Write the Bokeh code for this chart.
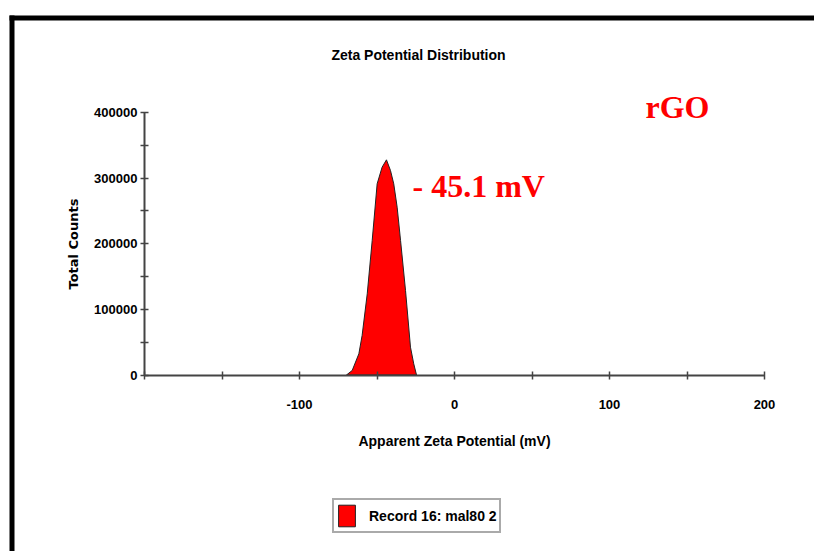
from bokeh.plotting import figure
from bokeh.models import Range1d, FixedTicker, Label, Legend, LegendItem, BoxAnnotation
from bokeh.embed import file_html
from bokeh.resources import INLINE

# ---- data ----
zeta_mv = [-69.7, -66.0, -61.7, -59.6, -56.3, -53.1, -49.9, -46.7, -43.9,
           -41.3, -39.2, -37.0, -34.8, -31.6, -28.4, -26.3, -24.5]
total_counts = [0, 6900, 32300, 60200, 123700, 205000, 291300, 316700, 327900,
                311600, 291300, 255700, 205000, 128800, 42400, 17000, 0]
x_ticks = [-200, -150, -100, -50, 0, 50, 100, 150, 200]
x_tick_labels = ["", "", "-100", "", "0", "", "100", "", "200"]
y_ticks = [0, 50000, 100000, 150000, 200000, 250000, 300000, 350000, 400000]
y_tick_labels = ["0", "", "100000", "", "200000", "", "300000", "", "400000"]
peak_label = "- 45.1 mV"
sample_label = "rGO"
record_label = "Record 16: mal80 2"

SANS = "Liberation Sans"
W, H = 814, 551
# pixel layout of the axes box inside the canvas
AX_L, AX_R, AX_T, AX_B = 144, 764, 112, 374.5
XMIN, XMAX, YMIN, YMAX = -200, 200, 0, 400000
kx = (XMAX - XMIN) / (AX_R - AX_L)
ky = (YMAX - YMIN) / (AX_B - AX_T)
x_range = Range1d(XMIN - AX_L * kx, XMAX + (W - AX_R) * kx)
y_range = Range1d(YMIN - (H - AX_B) * ky, YMAX + AX_T * ky)


def dx(px):  # canvas pixel -> data x (for placing annotations)
    return XMIN + (px - AX_L) * kx


def dy(py):  # canvas pixel -> data y
    return YMIN + (AX_B - py) * ky


p = figure(width=W, height=H, output_backend="svg", toolbar_location=None,
           x_range=x_range, y_range=y_range, min_border=0)
p.outline_line_color = None
p.grid.visible = False
p.background_fill_color = "white"
p.border_fill_color = "white"

peak = p.patch(zeta_mv, total_counts, fill_color="#ff0000", line_color="#222222",
               line_width=1)

for ax, ticks, labels, loc, bnds in ((p.xaxis[0], x_ticks, x_tick_labels, YMIN, (XMIN, XMAX)),
                                     (p.yaxis[0], y_ticks, y_tick_labels, XMIN, (YMIN, YMAX))):
    ax.fixed_location = loc
    ax.bounds = bnds
    ax.ticker = FixedTicker(ticks=ticks)
    ax.major_label_overrides = {t: l for t, l in zip(ticks, labels)}
    ax.minor_tick_line_color = None
    ax.axis_line_color = "#444444"
    ax.axis_line_width = 2
    ax.major_tick_line_color = "#444444"
    ax.major_tick_line_width = 1.5
    ax.major_tick_in = 4
    ax.major_tick_out = 4
    ax.major_label_text_font = SANS
    ax.major_label_text_font_style = "bold"
    ax.major_label_text_font_size = "13px"
    ax.major_label_text_color = "black"
    ax.axis_label_text_color = "black"
    ax.axis_label_text_font_style = "bold"

p.xaxis.major_label_standoff = 21
p.yaxis.major_label_standoff = 3
p.xaxis.axis_label = "Apparent Zeta Potential (mV)"
p.xaxis.axis_label_text_font = SANS
p.xaxis.axis_label_text_font_size = "14px"
p.xaxis.axis_label_standoff = 20
p.yaxis.axis_label = "Total Counts"
p.yaxis.axis_label_text_font = "DejaVu Sans"
p.yaxis.axis_label_text_font_size = "13px"
p.yaxis.axis_label_standoff = 10

# title
p.add_layout(Label(x=dx(418), y=dy(54), text="Zeta Potential Distribution",
                   text_font=SANS, text_font_style="bold", text_font_size="14px",
                   text_align="center", text_baseline="middle", text_color="black"))
# red annotations
p.add_layout(Label(x=dx(412), y=dy(185), text=peak_label, text_font="Liberation Serif",
                   text_font_style="bold", text_font_size="32px", text_color="#ff0000",
                   text_align="left", text_baseline="alphabetic"))
p.add_layout(Label(x=dx(645), y=dy(106), text=sample_label, text_font="Liberation Serif",
                   text_font_style="bold", text_font_size="32px", text_color="#ff0000",
                   text_align="left", text_baseline="alphabetic"))

# frame lines (top and left)
p.add_layout(BoxAnnotation(left=dx(9), right=dx(W + 10), bottom=dy(20), top=dy(15),
                           fill_color="black", fill_alpha=1, line_color=None))
p.add_layout(BoxAnnotation(left=dx(9), right=dx(14), bottom=dy(H + 10), top=dy(15),
                           fill_color="black", fill_alpha=1, line_color=None))

legend = Legend(items=[LegendItem(label=record_label, renderers=[peak])],
                location=(332, 18), orientation="horizontal",
                padding=2, margin=0, spacing=0, glyph_width=21, glyph_height=27,
                label_standoff=12, border_line_color="#555555", border_line_width=2,
                background_fill_color="white", background_fill_alpha=1,
                label_text_font=SANS, label_text_font_style="bold",
                label_text_font_size="14px", label_text_color="black")
p.add_layout(legend, "center")

open("out.html", "w").write(file_html(p, INLINE))
